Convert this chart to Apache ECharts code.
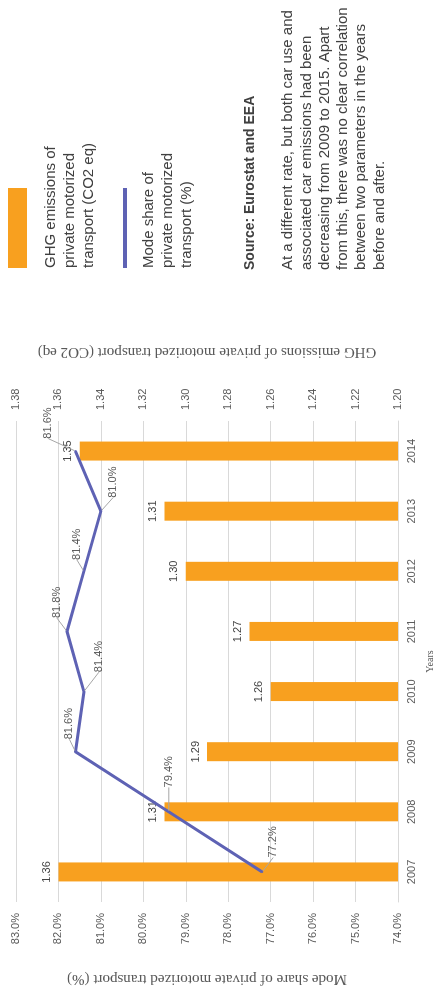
<!DOCTYPE html>
<html>
<head>
<meta charset="utf-8">
<script src="https://cdn.jsdelivr.net/npm/echarts@6/dist/echarts.min.js"></script>
<style>
  html, body { margin: 0; padding: 0; background: #ffffff; }
  body { width: 440px; height: 993px; overflow: hidden; position: relative; }
  /* The chart is laid out landscape and turned a quarter turn for the portrait page */
  #chart {
    position: absolute; left: 0; top: 0;
    width: 993px; height: 440px;
    transform-origin: 0 0;
    transform: rotate(-90deg) translate(-993px, 0);
  }
</style>
</head>
<body>
<div id="chart"></div>
<script>
// Years on the category axis
const years = ['2007', '2008', '2009', '2010', '2011', '2012', '2013', '2014'];
// GHG emissions of private motorized transport (CO2 eq)
const ghgEmissions = [1.36, 1.31, 1.29, 1.26, 1.27, 1.30, 1.31, 1.35];
// Mode share of private motorized transport (%)
const modeShare = [77.2, 79.4, 81.6, 81.4, 81.8, 81.4, 81.0, 81.6];

// Axis ranges
const shareAxis = { min: 74, max: 83, step: 1 };
const ghgAxis = { min: 1.20, max: 1.38, step: 0.02 };

// Callout offsets for the mode-share labels (dx, dy from each point)
const shareLabelOffsets = [[30, 11], [40, 0], [28, -6], [35, 15], [29, -10], [27, -7], [29, 12], [28, -27]];

const paragraph = [
  'At a different rate, but both car use and',
  'associated car emissions had been',
  'decreasing from 2009 to 2015. Apart',
  'from this, there was no clear correlation',
  'between two parameters in the years',
  'before and after.'
];

const ORANGE = '#F8A01F';
const BLUE = '#5E62B4';
const GRID = '#d9d9d9';
const TICK = '#595959';
const SANS = '"Liberation Sans", Arial, Helvetica, sans-serif';
const SERIF = '"Liberation Serif", "Times New Roman", serif';

const chart = echarts.init(document.getElementById('chart'));

chart.setOption({
  animation: false,
  backgroundColor: '#ffffff',
  grid: { left: 91, right: 421, top: 16, bottom: 38 },
  xAxis: {
    type: 'category',
    data: years,
    name: 'Years',
    nameLocation: 'middle',
    nameGap: 27,
    nameTextStyle: { fontFamily: SERIF, fontSize: 10, color: TICK },
    axisTick: { show: false },
    axisLine: { lineStyle: { color: GRID, width: 1 } },
    axisLabel: { fontFamily: SANS, fontSize: 11, color: TICK, margin: 8 }
  },
  yAxis: [
    {
      type: 'value',
      position: 'left',
      min: shareAxis.min,
      max: shareAxis.max,
      interval: shareAxis.step,
      name: 'Mode share of private motorized transport (%)',
      nameLocation: 'middle',
      nameGap: 69,
      nameTextStyle: { fontFamily: SERIF, fontSize: 15, color: TICK },
      axisLine: { show: false },
      axisTick: { show: false },
      axisLabel: {
        fontFamily: SANS, fontSize: 11, color: TICK, margin: 11,
        formatter: v => v.toFixed(1) + '%'
      },
      splitLine: { lineStyle: { color: GRID, width: 1 } }
    },
    {
      type: 'value',
      position: 'right',
      min: ghgAxis.min,
      max: ghgAxis.max,
      interval: ghgAxis.step,
      name: 'GHG emissions of private motorized transport (CO2 eq)',
      nameLocation: 'middle',
      nameGap: 62,
      nameTextStyle: { fontFamily: SERIF, fontSize: 15, color: TICK },
      axisLine: { show: false },
      axisTick: { show: false },
      axisLabel: {
        fontFamily: SANS, fontSize: 11, color: TICK, margin: 11,
        formatter: v => v.toFixed(2)
      },
      splitLine: { show: false }
    }
  ],
  series: [
    {
      name: 'GHG emissions of private motorized transport (CO2 eq)',
      type: 'bar',
      yAxisIndex: 1,
      data: ghgEmissions,
      barWidth: 19,
      itemStyle: { color: ORANGE },
      label: {
        show: true,
        position: 'top',
        distance: 6,
        fontFamily: SANS,
        fontSize: 11,
        color: '#404040',
        formatter: p => p.value.toFixed(2)
      },
      z: 2
    },
    {
      name: 'Mode share of private motorized transport (%)',
      type: 'line',
      yAxisIndex: 0,
      data: modeShare,
      symbol: 'circle',
      symbolSize: 2,
      showSymbol: true,
      lineStyle: { color: BLUE, width: 3 },
      itemStyle: { color: BLUE },
      label: {
        show: true,
        position: 'inside',
        fontFamily: SANS,
        fontSize: 11,
        color: TICK,
        formatter: p => p.value.toFixed(1) + '%'
      },
      labelLine: {
        show: true,
        lineStyle: { color: '#a6a6a6', width: 1 }
      },
      labelLayout: p => ({
        dx: shareLabelOffsets[p.dataIndex][0],
        dy: shareLabelOffsets[p.dataIndex][1]
      }),
      z: 3
    }
  ],
  graphic: [
    { type: 'rect', left: 725, top: 8, shape: { width: 80, height: 19 }, style: { fill: ORANGE } },
    {
      type: 'text', left: 725, top: 41,
      style: {
        text: 'GHG emissions of\nprivate motorized\ntransport (CO2 eq)',
        font: '15px ' + SANS, lineHeight: 19, fill: '#404040'
      }
    },
    { type: 'rect', left: 725, top: 123, shape: { width: 80, height: 4 }, style: { fill: BLUE } },
    {
      type: 'text', left: 725, top: 139,
      style: {
        text: 'Mode share of\nprivate motorized\ntransport (%)',
        font: '15px ' + SANS, lineHeight: 19, fill: '#404040'
      }
    },
    {
      type: 'text', left: 723, top: 243,
      style: { text: 'Source: Eurostat and EEA', font: 'bold 14px ' + SANS, fill: '#404040' }
    },
    {
      type: 'text', left: 723, top: 279,
      style: { text: paragraph.join('\n'), font: '15px ' + SANS, lineHeight: 18.3, fill: '#404040' }
    }
  ]
});
</script>
</body>
</html>
